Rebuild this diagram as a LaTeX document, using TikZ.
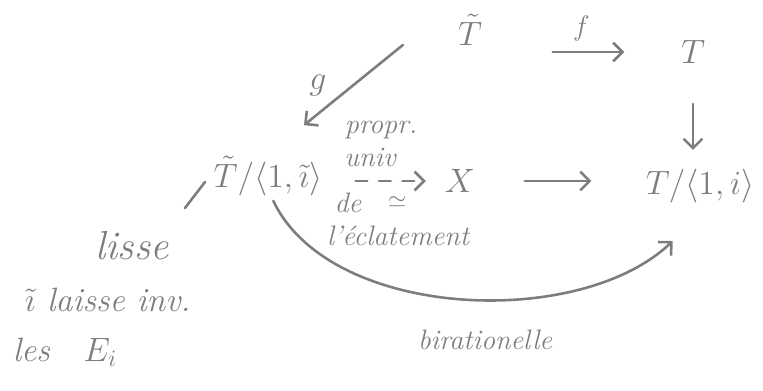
\documentclass[tikz,border=0pt]{standalone}
\usetikzlibrary{arrows.meta,positioning}
\definecolor{ink}{RGB}{125,125,125}
\tikzset{
  pen/.style={draw=ink, line width=1.1pt, line cap=round},
  barb/.style={-{Straight Barb[length=4pt,width=8pt,line width=1.1pt]}},
  hand/.style={text=ink, font=\large\itshape, inner sep=1pt},
  obj/.style={text=ink, font=\Large, inner sep=2pt},
}
\begin{document}
\begin{tikzpicture}[x=0.015cm,y=-0.015cm]
\useasboundingbox (0,0) rectangle (763,390);

\node[obj] (tt) at (470,30) {$\tilde{T}$};
\node[obj] (t) at (693,52) {$T$};
\node[obj] (tq) at (268,176) {$\tilde{T}/\langle 1,\tilde{\imath}\rangle$};
\node[obj] (x) at (460,181) {$X$};
\node[obj] (tp) at (700,186) {$T/\langle 1,i\rangle$};

\draw[pen,barb,shorten <=28pt,shorten >=22pt] (t -| tt.east) -- node[hand,above=3pt] (f) {$f$} (t.west);
\draw[pen,barb,shorten <=15pt,shorten >=6pt] (t.south) -- (t.south |- tp.north);
\draw[pen,barb] ([shift={(-50,15)}]tt.west) -- node[hand,font=\Large\itshape,left=10pt] (g) {$g$} ([shift={(36,-26)}]tq.north);

% propriete universelle
\draw[pen,barb,dash pattern=on 5pt off 5pt,shorten <=12pt,shorten >=6pt] (tq.east |- x) -- node[hand,pos=0.62,below=5pt,font=\normalsize] (iso) {$\simeq$} (x.west);
\node[hand] (propr) at (381,130) {propr.};
\node[hand] (univ) at (370,157) {univ};
\node[hand] (de) at (348,203) {de};
\node[hand] (ecl) at (398,236) {l'\'eclatement};

\draw[pen,barb,shorten <=19pt,shorten >=21pt] (x.east) -- (x.east -| tp.west);

% birationnelle
\draw[pen,barb] (tq.-78) .. controls (330,320) and (580,330) .. ([shift={(32,33)}]tp.south west);
\node[hand] (birat) at (485,340) {birationelle};

\draw[pen] (205,182) -- (185,208);
\node[hand,font=\LARGE\itshape] (lisse) at (132,246) {lisse};
\node[hand,font=\Large\itshape,anchor=west] (inv) at (22,300) {$\tilde{\imath}$ laisse inv.};
\node[hand,font=\Large\itshape,anchor=west] (les) at (10,352) {les\quad $E_i$};
\end{tikzpicture}
\end{document}
